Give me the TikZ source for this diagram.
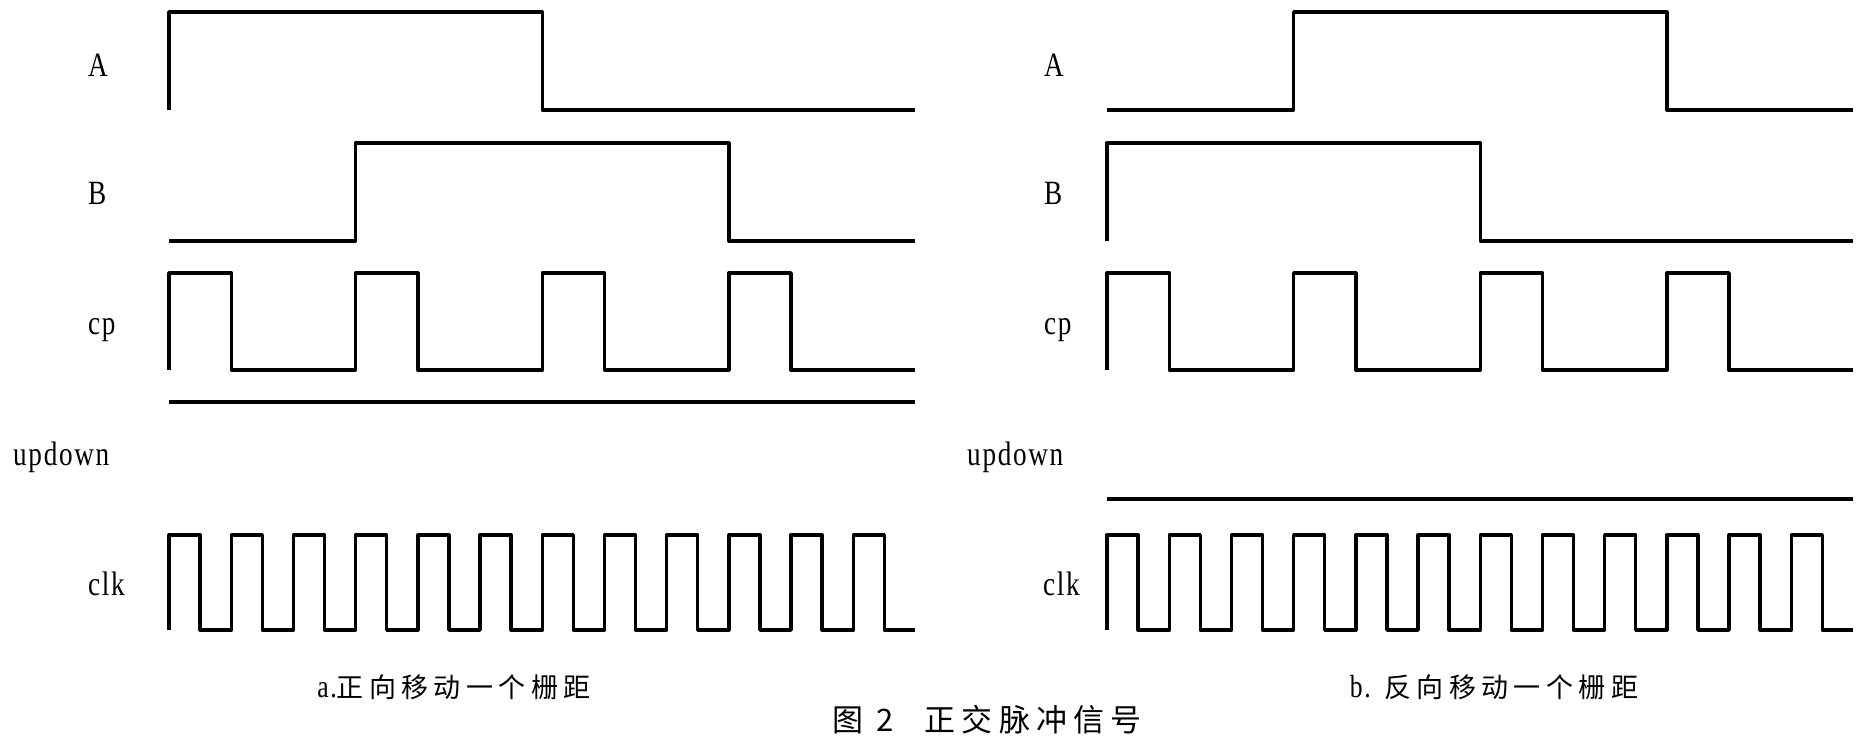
\documentclass[tikz,border=0pt]{standalone}
\usepackage{fontspec}
\usepackage{tikz}
\newfontfamily\sigfont[FakeStretch=0.8,LetterSpace=5]{Liberation Serif}
\newfontfamily\cjk[LetterSpace=20]{Noto Sans CJK SC}

\begin{document}
\begin{tikzpicture}[x=1pt,y=-1pt,
    wave/.style={line width=3.4pt,line join=round},
    sig/.style={anchor=base west,inner sep=0pt,font=\sigfont\fontsize{34}{40}\selectfont},
    subcap/.style={inner sep=0pt,font=\fontsize{27}{30}\selectfont},
    maincap/.style={inner sep=0pt,font=\cjk\fontsize{31}{34}\selectfont}]
    \useasboundingbox (0,0) rectangle (1865,736);
       % left panel: forward
       \begin{scope}[shift={(169,0)},xscale=62.2]
        \draw[wave] (0,110) -- (0,12) -- (6,12) -- (6,110) -- (12,110);
        \draw[wave] (0,241) -- (3,241) -- (3,143) -- (9,143) -- (9,241) -- (12,241);
        \draw[wave] (0,370) \foreach \k in {0,3,6,9} { -- (\k,273) -- (\k+1,273) -- (\k+1,370) -- (\k+3,370) };
        \draw[wave] (0,402) -- (12,402);
        \draw[wave] (0,630) \foreach \k in {0,...,11} { -- (\k,535) -- (\k+0.5,535) -- (\k+0.5,630) -- (\k+1,630) };
       \end{scope}
       % right panel: backward
       \begin{scope}[shift={(1107,0)},xscale=62.2]
        \draw[wave] (0,110) -- (3,110) -- (3,12) -- (9,12) -- (9,110) -- (12,110);
        \draw[wave] (0,241) -- (0,143) -- (6,143) -- (6,241) -- (12,241);
        \draw[wave] (0,370) \foreach \k in {0,3,6,9} { -- (\k,273) -- (\k+1,273) -- (\k+1,370) -- (\k+3,370) };
        \draw[wave] (0,499) -- (12,499);
        \draw[wave] (0,630) \foreach \k in {0,...,11} { -- (\k,535) -- (\k+0.5,535) -- (\k+0.5,630) -- (\k+1,630) };
       \end{scope}
       % signal names
       \node (a_l) [sig] at (88,76) {A};
       \node (b_l) [sig] at (88,204) {B};
       \node (cp_l) [sig] at (88,334) {cp};
       \node (ud_l) [sig] at (13,465) {updown};
       \node (clk_l) [sig] at (88,595) {clk};
       \node (a_r) [sig] at (1044,76) {A};
       \node (b_r) [sig] at (1044,204) {B};
       \node (cp_r) [sig] at (1044,334) {cp};
       \node (ud_r) [sig] at (967,465) {updown};
       \node (clk_r) [sig] at (1043,595) {clk};
       % captions
       \node (cap_a) [subcap] at (454,687) {{\sigfont\fontsize{32}{34}\selectfont a.}{\cjk 正向移动一个栅距}};
       \node (cap_b) [subcap] at (1494,687) {{\sigfont\fontsize{32}{34}\selectfont b.}\enspace{\cjk 反向移动一个栅距}};
       \node (cap_m) [maincap] at (987,720) {图 2\quad 正交脉冲信号};
    \end{tikzpicture}
\end{document}
